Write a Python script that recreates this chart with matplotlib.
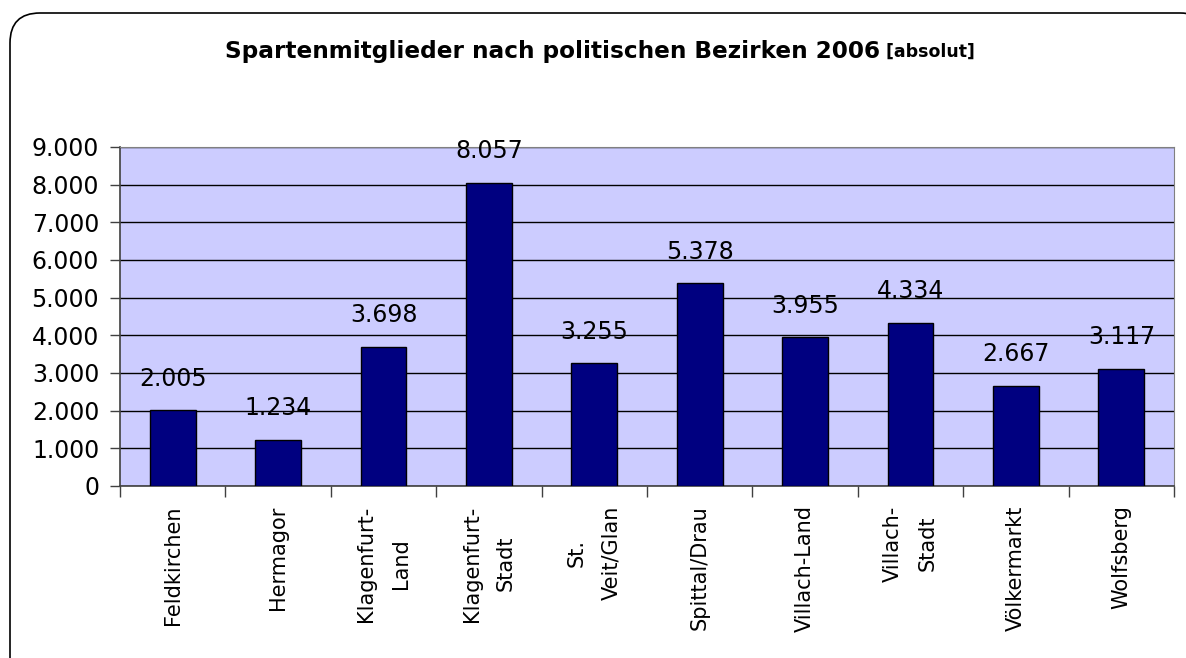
import matplotlib
matplotlib.use("Agg")
import matplotlib.pyplot as plt
from matplotlib.patches import FancyBboxPatch

# Data
districts = ["Feldkirchen", "Hermagor", "Klagenfurt-\nLand", "Klagenfurt-\nStadt",
             "St.\nVeit/Glan", "Spittal/Drau", "Villach-Land", "Villach-\nStadt",
             "Völkermarkt", "Wolfsberg"]
members = [2005, 1234, 3698, 8057, 3255, 5378, 3955, 4334, 2667, 3117]
y_ticks = [0, 1000, 2000, 3000, 4000, 5000, 6000, 7000, 8000, 9000]
y_labels = ["0", "1.000", "2.000", "3.000", "4.000", "5.000", "6.000", "7.000", "8.000", "9.000"]

plt.rcParams['font.family'] = ['DejaVu Sans']

fig = plt.figure(figsize=(11.86, 6.58), dpi=100)

# rounded frame around the whole chart
bg = fig.add_axes([0, 0, 1, 1], zorder=-1)
bg.set_xlim(0, 1186)
bg.set_ylim(658, 0)
bg.axis('off')
bg.add_patch(FancyBboxPatch((10, 13), 1200, 680, boxstyle="round,pad=0,rounding_size=30",
                            facecolor='white', edgecolor='black', linewidth=1.2))

ax = fig.add_axes([0.1012, 0.2614, 0.8887, 0.5152])
ax.set_facecolor('#CCCCFF')

x = list(range(len(districts)))
ax.bar(x, members, width=0.435, color='#000080', edgecolor='black', linewidth=1, zorder=3)

# data labels
for xi, v in zip(x, members):
    ax.annotate(f"{v:,}".replace(",", "."), (xi, v), xytext=(0, 14), textcoords='offset points',
                ha='center', va='bottom', fontsize=17, zorder=4)

ax.set_ylim(0, 9000)
ax.set_yticks(y_ticks)
ax.set_yticklabels(y_labels, fontsize=17)
ax.grid(axis='y', color='black', linewidth=1, zorder=1)
ax.set_axisbelow(True)
ax.tick_params(axis='y', direction='out', length=7, width=1, pad=8, color='#404040')

# category boundaries as major ticks, names as minor
ax.set_xlim(-0.5, len(districts) - 0.5)
ax.set_xticks([i - 0.5 for i in range(len(districts) + 1)])
ax.set_xticklabels([])
ax.set_xticks(x, minor=True)
ax.set_xticklabels(districts, minor=True, rotation=90, fontsize=15,
                   multialignment='center', va='top', linespacing=1.9)
ax.tick_params(axis='x', which='major', direction='out', length=8, width=1, color='#404040')
ax.tick_params(axis='x', which='minor', length=0, pad=14)

for side in ['top', 'right']:
    ax.spines[side].set_color('#808080')
for side in ['left', 'bottom']:
    ax.spines[side].set_color('#404040')
    ax.spines[side].set_linewidth(1.2)

# title, with smaller "[absolut]" appended
t1 = fig.text(225 / 1186, 0.921, "Spartenmitglieder nach politischen Bezirken 2006",
              ha='left', va='center', fontsize=16.7, fontweight='bold')
ax.annotate(" [absolut]", xy=(1, 0.5), xycoords=t1, ha='left', va='center',
            fontsize=12.5, fontweight='bold', annotation_clip=False)

fig.savefig("out.png", dpi=100)
